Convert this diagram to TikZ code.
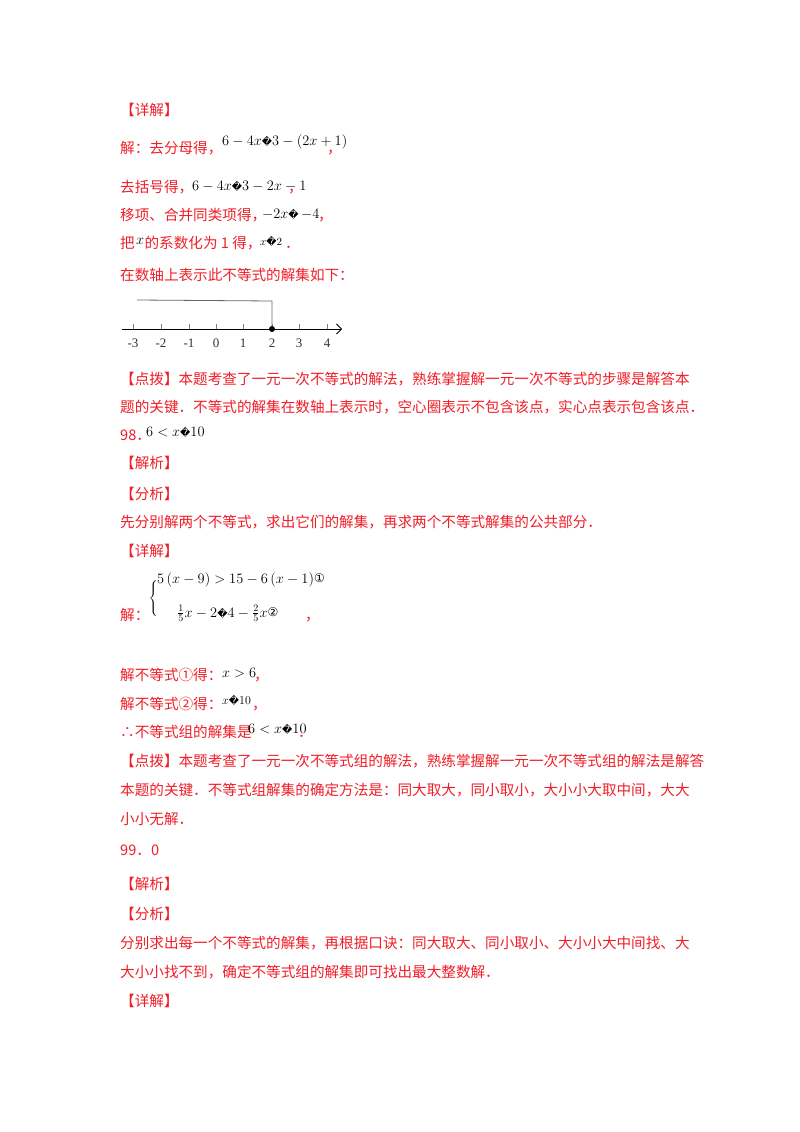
\documentclass[tikz,border=0pt]{standalone}
\usepackage{fontspec}
\usetikzlibrary{arrows.meta}
\setmainfont{Liberation Serif}
\newfontfamily\cjk{Noto Sans CJK SC}
\newfontfamily\djv{DejaVu Sans}
\definecolor{cred}{RGB}{240,30,40}
\newcommand{\qq}{\mbox{\djv\fontsize{10}{10}\selectfont\char"FFFD}}
\begin{document}
\begin{tikzpicture}[x=1pt,y=-1pt,
  t/.style={anchor=base west,inner sep=0pt,text=cred,font=\cjk\fontsize{14.6}{18}\selectfont},
  m/.style={anchor=base west,inner sep=0pt,text=black,font=\fontsize{14}{16}\selectfont}]
\useasboundingbox[fill=white] (0,0) rectangle (800,1132);
\node[t] (a1) at (120,115) {【详解】};
\node[t] (a2) at (120,153) {解：去分母得，};
\node[m] (f1) at (222,145) {$6-4x$\qq$3-\left(2x+1\right)$};
\node[t] (c1) at (327,153) {，};
\node[t] (a3) at (120,192) {去括号得，};
\node[m] (f2) at (192,190) {$6-4x$\qq$3-2x-1$};
\node[t] (c2) at (288,192) {，};
\node[t] (a4) at (120,220) {移项、合并同类项得，};
\node[m] (f3) at (262,218) {$-2x$\qq$\,-4$};
\node[t] (c3) at (318,220) {，};
\node[t] (a5) at (120,248) {把\ \ \ 的系数化为 1 得，};
\node[m] (f4) at (136,244) {$x$};
\node[m,font=\fontsize{11}{12}\selectfont] (f5) at (260,245) {$x$\qq$2$};
\node[t] (c4) at (285,248) {．};
\node[t] (a6) at (120,280) {在数轴上表示此不等式的解集如下：};
% number line
\coordinate (L) at (122,329);
\coordinate (R) at (342,329);
\draw[thick,-{Straight Barb[length=5pt]}] (L) -- (R);
\foreach \v/\xx in {-3/133,-2/161,-1/189,0/216,1/243,2/272,3/299,4/327}{
  \draw[gray] (\xx,324) -- (\xx,329);
  \node[anchor=base,inner sep=0pt,font=\fontsize{13}{14}\selectfont,text=black!80] at (\xx,347) {\v};
}
\coordinate (B0) at (137,300);
\coordinate (B1) at (272,301);
\node[circle,fill=black,inner sep=0pt,minimum size=6pt] (dot) at (272,329) {};
\draw[gray!80!black,thick] (B0) -- (B1) -- (dot);
\node[t] (b1) at (120,384) {【点拨】本题考查了一元一次不等式的解法，熟练掌握解一元一次不等式的步骤是解答本};
\node[t] (b2) at (120,412) {题的关键．不等式的解集在数轴上表示时，空心圈表示不包含该点，实心点表示包含该点．};
\node[t] (b3) at (120,440) {98．};
\node[m] (g1) at (146,436) {$6<x$\qq$10$};
\node[t] (b4) at (120,468) {【解析】};
\node[t] (b5) at (120,499) {【分析】};
\node[t] (b6) at (120,527) {先分别解两个不等式，求出它们的解集，再求两个不等式解集的公共部分．};
\node[t] (b7) at (120,556) {【详解】};
\node[t] (b8) at (120,620) {解：};
\node[m] (s1) at (157,583) {$5\left(x-9\right)>15-6\left(x-1\right)$\raisebox{0.5pt}{\djv\fontsize{12}{12}\selectfont ①}};
\node[m] (s2) at (177,617) {$\frac{1}{5}x-2$\qq$4-\frac{2}{5}x$\raisebox{0.5pt}{\djv\fontsize{12}{12}\selectfont ②}};
\node[anchor=center,inner sep=0pt,font=\fontsize{14}{16}\selectfont] (br) at (154,598) {$\left\{\vphantom{\rule{1pt}{22pt}}\right.$};
\node[t] (c5) at (305,620) {，};
\node[t] (d1) at (120,680) {解不等式①得：};
\node[m] (h1) at (222,677) {$x>6$};
\node[t] (c6) at (254,680) {，};
\node[t] (d2) at (120,709) {解不等式②得：};
\node[m,font=\fontsize{12}{13}\selectfont] (h2) at (222,704) {$x$\qq$10$};
\node[t] (c7) at (252,709) {，};
\node[t] (d3) at (120,737) {∴不等式组的解集是};
\node[m] (h3) at (248,733) {$6<x$\qq$10$};
\node[t] (c8) at (298,737) {．};
\node[t] (d4) at (120,766) {【点拨】本题考查了一元一次不等式组的解法，熟练掌握解一元一次不等式组的解法是解答};
\node[t] (d5) at (120,795) {本题的关键．不等式组解集的确定方法是：同大取大，同小取小，大小小大取中间，大大};
\node[t] (d6) at (120,824) {小小无解．};
\node[t] (d7) at (120,855) {99．0};
\node[t] (d8) at (120,889) {【解析】};
\node[t] (d9) at (120,919) {【分析】};
\node[t] (d10) at (120,948) {分别求出每一个不等式的解集，再根据口诀：同大取大、同小取小、大小小大中间找、大};
\node[t] (d11) at (120,977) {大小小找不到，确定不等式组的解集即可找出最大整数解．};
\node[t] (d12) at (120,1006) {【详解】};
\end{tikzpicture}
\end{document}
